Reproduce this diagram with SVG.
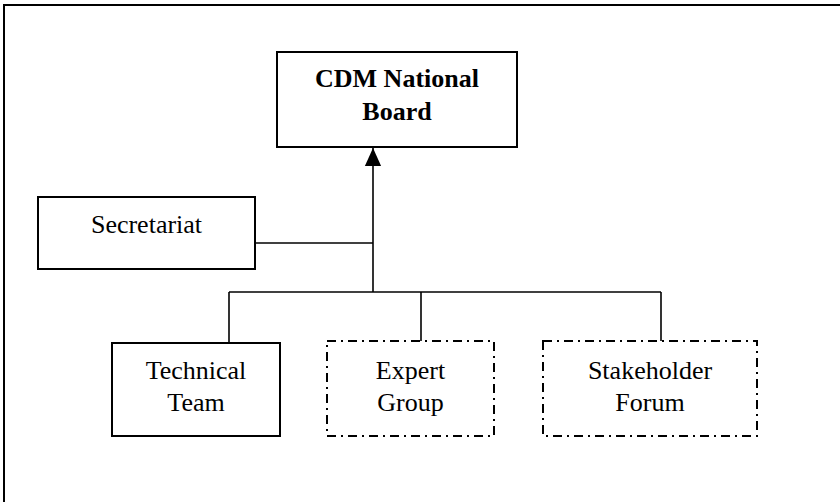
<svg xmlns="http://www.w3.org/2000/svg" width="840" height="502" viewBox="0 0 840 502">
<style>
  .box { fill: #fff; stroke: #000; stroke-width: 2; }
  .dash { fill: #fff; stroke: #000; stroke-width: 2; stroke-dasharray: 9 5 2 5; }
  .conn { fill: none; stroke: #000; stroke-width: 1.6; }
  .frame { fill: none; stroke: #000; stroke-width: 2; }
  text { font-family: "Liberation Serif", "Times New Roman", serif; font-size: 26px; fill: #000; text-anchor: middle; }
  .bold { font-weight: bold; }
</style>
<defs>
  <marker id="arrow" markerWidth="18" markerHeight="20" refX="20" refY="9" orient="auto" markerUnits="userSpaceOnUse" viewBox="0 0 20 18">
    <path d="M0,0 L20,9 L0,18 Z" fill="#000"/>
  </marker>
</defs>
<rect width="840" height="502" fill="#fff"/>
<path class="frame" d="M4,502 L4,5 L840,5"/>
<g id="connectors">
  <line class="conn" x1="373" y1="292" x2="373" y2="148" marker-end="url(#arrow)"/>
  <line class="conn" x1="255" y1="243" x2="373" y2="243"/>
  <line class="conn" x1="229" y1="292" x2="661" y2="292"/>
  <line class="conn" x1="229" y1="292" x2="229" y2="343"/>
  <line class="conn" x1="421" y1="292" x2="421" y2="341"/>
  <line class="conn" x1="661" y1="292" x2="661" y2="341"/>
</g>
<g id="board">
  <rect class="box" x="277" y="52" width="240" height="95"/>
  <text class="bold" x="397" y="87">CDM National</text>
  <text class="bold" x="397" y="120">Board</text>
</g>
<g id="secretariat">
  <rect class="box" x="38" y="197" width="217" height="72"/>
  <text x="146.5" y="233">Secretariat</text>
</g>
<g id="technical">
  <rect class="box" x="112" y="343" width="168" height="93"/>
  <text x="196" y="379">Technical</text>
  <text x="196" y="411">Team</text>
</g>
<g id="expert">
  <rect class="dash" x="327" y="341" width="167" height="95"/>
  <text x="410.5" y="379">Expert</text>
  <text x="410.5" y="411">Group</text>
</g>
<g id="stakeholder">
  <rect class="dash" x="543" y="341" width="214" height="95"/>
  <text x="650" y="379">Stakeholder</text>
  <text x="650" y="411">Forum</text>
</g>
</svg>
